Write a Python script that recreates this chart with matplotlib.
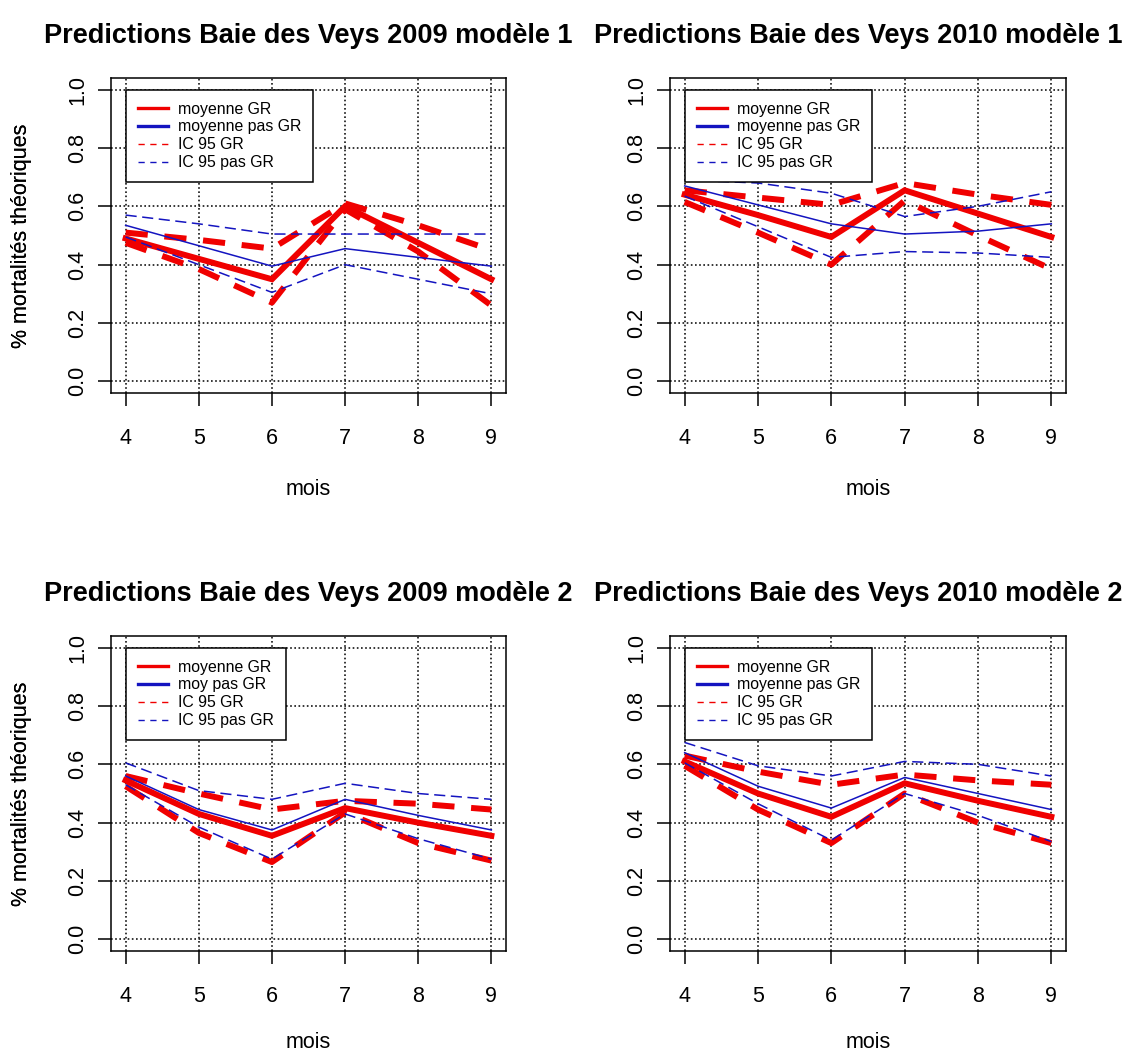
import matplotlib
matplotlib.use('Agg')
import matplotlib.pyplot as plt
from matplotlib.lines import Line2D

plt.rcParams['font.family'] = ['Liberation Sans', 'DejaVu Sans']
plt.rcParams['lines.scale_dashes'] = False

W, H = 1125, 1057
RED = '#f00000'
BLUE = '#1414c0'

months = [4, 5, 6, 7, 8, 9]
yticks = [0.0, 0.2, 0.4, 0.6, 0.8, 1.0]

# 2009 modele 1
p1_moy_gr = [0.49, 0.42, 0.35, 0.60, 0.475, 0.35]
p1_moy_pas = [0.535, 0.465, 0.395, 0.455, 0.425, 0.395]
p1_ic_gr_hi = [0.51, 0.485, 0.455, 0.61, 0.535, 0.45]
p1_ic_gr_lo = [0.475, 0.385, 0.27, 0.59, 0.445, 0.26]
p1_ic_pas_hi = [0.57, 0.54, 0.505, 0.505, 0.505, 0.505]
p1_ic_pas_lo = [0.495, 0.40, 0.305, 0.40, 0.35, 0.30]

# 2010 modele 1
p2_moy_gr = [0.64, 0.57, 0.495, 0.655, 0.575, 0.495]
p2_moy_pas = [0.67, 0.605, 0.54, 0.505, 0.515, 0.54]
p2_ic_gr_hi = [0.655, 0.63, 0.605, 0.68, 0.64, 0.605]
p2_ic_gr_lo = [0.615, 0.51, 0.40, 0.62, 0.50, 0.385]
p2_ic_pas_hi = [0.69, 0.68, 0.645, 0.565, 0.60, 0.65]
p2_ic_pas_lo = [0.635, 0.53, 0.425, 0.445, 0.44, 0.425]

# 2009 modele 2
p3_moy_gr = [0.545, 0.43, 0.355, 0.45, 0.40, 0.355]
p3_moy_pas = [0.56, 0.445, 0.375, 0.48, 0.425, 0.375]
p3_ic_gr_hi = [0.56, 0.50, 0.445, 0.475, 0.465, 0.445]
p3_ic_gr_lo = [0.525, 0.365, 0.265, 0.435, 0.33, 0.27]
p3_ic_pas_hi = [0.605, 0.51, 0.48, 0.535, 0.50, 0.48]
p3_ic_pas_lo = [0.53, 0.385, 0.275, 0.43, 0.345, 0.275]

# 2010 modele 2
p4_moy_gr = [0.61, 0.50, 0.42, 0.535, 0.475, 0.42]
p4_moy_pas = [0.64, 0.525, 0.45, 0.555, 0.50, 0.445]
p4_ic_gr_hi = [0.63, 0.575, 0.53, 0.565, 0.545, 0.53]
p4_ic_gr_lo = [0.595, 0.445, 0.33, 0.50, 0.40, 0.33]
p4_ic_pas_hi = [0.675, 0.595, 0.56, 0.61, 0.60, 0.56]
p4_ic_pas_lo = [0.605, 0.465, 0.34, 0.50, 0.425, 0.335]

panels = [
    ("Predictions Baie des Veys 2009 modèle 1", "moyenne pas GR",
     p1_moy_gr, p1_moy_pas, p1_ic_gr_hi, p1_ic_gr_lo, p1_ic_pas_hi, p1_ic_pas_lo),
    ("Predictions Baie des Veys 2010 modèle 1", "moyenne pas GR",
     p2_moy_gr, p2_moy_pas, p2_ic_gr_hi, p2_ic_gr_lo, p2_ic_pas_hi, p2_ic_pas_lo),
    ("Predictions Baie des Veys 2009 modèle 2", "moy pas GR",
     p3_moy_gr, p3_moy_pas, p3_ic_gr_hi, p3_ic_gr_lo, p3_ic_pas_hi, p3_ic_pas_lo),
    ("Predictions Baie des Veys 2010 modèle 2", "moyenne pas GR",
     p4_moy_gr, p4_moy_pas, p4_ic_gr_hi, p4_ic_gr_lo, p4_ic_pas_hi, p4_ic_pas_lo),
]

# axes boxes in pixels: (left, top, right, bottom)
boxes = [(111, 78, 506, 393), (670, 78, 1066, 393),
         (111, 636, 506, 951), (670, 636, 1066, 951)]

fig = plt.figure(figsize=(W / 100, H / 100), dpi=100)

red_dash = (0, (16, 12))
blue_dash = (0, (8, 4))
grid_dots = (0, (1.2, 1.8))

for (title, pas_label, moy_gr, moy_pas, gr_hi, gr_lo, pas_hi, pas_lo), (l, t, r, b) in zip(panels, boxes):
    ax = fig.add_axes([l / W, 1 - b / H, (r - l) / W, (b - t) / H])
    ax.set_xlim(3.8, 9.2)
    ax.set_ylim(-0.04, 1.04)

    # grid first, lines over it
    for m in months:
        ax.axvline(m, color='black', lw=1.1, ls=grid_dots, zorder=1)
    for v in yticks:
        ax.axhline(v, color='black', lw=1.1, ls=grid_dots, zorder=1)

    ax.plot(months, moy_gr, color=RED, lw=4.3, zorder=2, solid_joinstyle='miter')
    ax.plot(months, gr_hi, color=RED, lw=4.3, ls=red_dash, zorder=2)
    ax.plot(months, gr_lo, color=RED, lw=4.3, ls=red_dash, zorder=2)
    ax.plot(months, moy_pas, color=BLUE, lw=1.1, zorder=3)
    ax.plot(months, pas_hi, color=BLUE, lw=1.1, ls=blue_dash, zorder=3)
    ax.plot(months, pas_lo, color=BLUE, lw=1.1, ls=blue_dash, zorder=3)

    ax.set_xticks(months)
    ax.set_xticklabels([str(m) for m in months])
    ax.set_yticks(yticks)
    ax.set_yticklabels([f"{v:.1f}" for v in yticks], rotation=90, va='center')
    ax.tick_params(axis='both', length=9.5, width=1.1, labelsize=15.5, color='black')
    ax.tick_params(axis='x', pad=16)
    ax.tick_params(axis='y', pad=7)
    for s in ax.spines.values():
        s.set_linewidth(1.1)

    handles = [
        Line2D([], [], color=RED, lw=2.4),
        Line2D([], [], color=BLUE, lw=2.4),
        Line2D([], [], color=RED, lw=1.0, ls=(0, (4.5, 4))),
        Line2D([], [], color=BLUE, lw=1.0, ls=(0, (4.5, 4))),
    ]
    labels = ["moyenne GR", pas_label, "IC 95 GR", "IC 95 pas GR"]
    leg = ax.legend(handles, labels, loc='upper left', bbox_to_anchor=(4, 1.0),
                    bbox_transform=ax.transData, borderaxespad=0, fontsize=11.4,
                    frameon=True, fancybox=False, edgecolor='black', framealpha=1,
                    handlelength=1.9, handletextpad=0.65, labelspacing=0.18,
                    borderpad=0.75)
    leg.get_frame().set_linewidth(1.1)
    leg.set_zorder(5)

    cx = (l + r) / 2
    # the right-hand titles run to the page edge; nudge them left so they stay whole
    tx = cx - 10 if l > 500 else cx
    fig.text(tx / W, 1 - (t - 42) / H, title, ha='center', va='center',
             fontsize=19.5, fontweight='bold')
    # bottom row "mois" sits close to the lower edge
    my = b + 97 if b < 500 else b + 92
    fig.text(cx / W, 1 - my / H, "mois", ha='center', va='center', fontsize=15.5)
    fig.text(22 / W, 1 - ((t + b) / 2) / H, "% mortalités théoriques", rotation=90,
             ha='center', va='center', fontsize=15.5)

fig.savefig('out.png', dpi=100)
